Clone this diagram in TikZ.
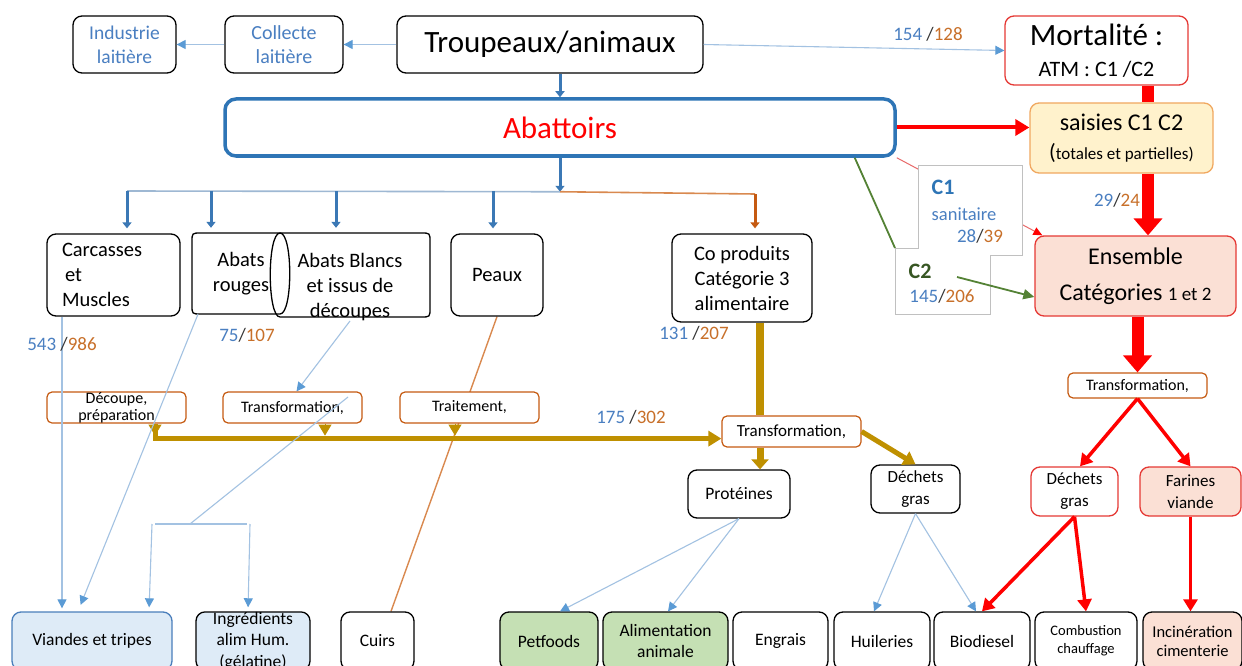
\documentclass[tikz,border=0pt]{standalone}
\usepackage{fontspec}
\setmainfont{Carlito}
\usetikzlibrary{arrows.meta,calc}
\pgfdeclarelayer{bg}
\pgfsetlayers{bg,main}
\definecolor{tblue}{HTML}{4A7FC1}
\definecolor{torange}{HTML}{C8702A}
\definecolor{lblue}{HTML}{A3C2E2}
\definecolor{tipblue}{HTML}{5B9BD5}
\definecolor{dblue}{HTML}{3B78B5}
\definecolor{aborder}{HTML}{2E75B6}
\definecolor{oborder}{HTML}{C55A11}
\definecolor{oline}{HTML}{D9894F}
\definecolor{gold}{HTML}{BF9000}
\definecolor{gfill}{HTML}{C5E0B4}
\definecolor{bfill}{HTML}{DEEBF7}
\definecolor{pfill}{HTML}{FBE0D5}
\definecolor{yfill}{HTML}{FFF2CC}
\definecolor{yborder}{HTML}{F0A860}
\definecolor{redb}{HTML}{E53935}
\definecolor{redthin}{HTML}{E86A6A}
\definecolor{dgreen}{HTML}{548235}
\definecolor{ctwo}{HTML}{375623}
\definecolor{greyb}{HTML}{C0C0C0}
\definecolor{vborder}{HTML}{4A7EBB}
\newcommand{\fsz}[2]{\fontsize{#1}{#2}\selectfont}
\newcommand{\nums}[3]{{\color{tblue}#1}#2{\color{black!80}/}{\color{torange}#3}}
\begin{document}
\begin{tikzpicture}[x=1pt,y=-1pt,
  box/.style={draw,rounded corners=9pt,line width=1.3pt,fill=white,inner sep=0pt,align=center,font=\fsz{20.5}{25}},
  pbox/.style={draw=oborder,rounded corners=5pt,line width=1.2pt,fill=white,inner sep=0pt,align=center,font=\fsz{16}{17}},
  bbox/.style={box,minimum height=58pt,font=\fsz{17.5}{21}},
  lbl/.style={inner sep=0pt,font=\fsz{19}{22}},
  lline/.style={draw=lblue,line width=1.1pt},
  lconn/.style={lline,-{Triangle[length=9pt,width=9pt,color=tipblue]}},
  tarrow/.style={draw=dblue,line width=3pt,-{Triangle[length=6pt,width=9pt]}},
  redbig/.style={draw=red,line width=12pt,-{Triangle[length=17pt,width=28pt]}},
  redmed/.style={draw=red,line width=3.5pt,-{Triangle[length=12pt,width=14pt]}}
]
\useasboundingbox (0,0) rectangle (1242,666);
\begin{pgfonlayer}{bg}
\fill[white] (0,0) rectangle (1242,666);
\end{pgfonlayer}
\clip (0,0) rectangle (1242,666);

% ---------- top row
\node[box,minimum width=103pt,minimum height=57pt,text=tblue,font=\fsz{19.5}{24}] (ind) at (124.5,44.5) {Industrie\\laitière};
\node[box,minimum width=118pt,minimum height=57pt,text=tblue,font=\fsz{20}{24}] (col) at (284,44.5) {Collecte\\laitière};
\node[box,minimum width=306pt,minimum height=57pt,font=\fsz{31}{36}] (trp) at (550,44.5) {Troupeaux/animaux};
\node[box,draw=redb,minimum width=183pt,minimum height=69pt,font=\fsz{31}{31}] (mort) at (1096.5,50.5) {Mortalité :\\\fsz{22}{31}ATM : C1 /C2};
\node[box,draw=aborder,line width=3.5pt,rounded corners=11pt,minimum width=670pt,minimum height=57pt,text=red,font=\fsz{31}{36}] (aba) at (560,127.5) {Abattoirs};
\node[box,draw=yborder,fill=yfill,minimum width=183pt,minimum height=70pt,font=\fsz{24}{29}] (sais) at (1121.5,138) {saisies C1 C2\\\fsz{17}{29}{\fsz{22}{29}(}totales et partielles)};
\node[box,draw=redb,fill=pfill,minimum width=201pt,minimum height=80pt,font=\fsz{24}{36}] (ens) at (1135.5,276) {Ensemble\\Catégories {\fsz{19}{36}1 et 2}};

% ---------- second row
\node[box,minimum width=133pt,minimum height=82pt,text width=103pt,align=left] (carc) at (113.5,275) {Carcasses\\\hspace*{3pt}et\\Muscles};
\node[inner sep=0pt,minimum width=98pt,minimum height=81pt,align=center,font=\fsz{20.5}{25}] (abr) at (241,273.5) {Abats\\rouges};
\node[inner sep=0pt,minimum width=160pt,minimum height=84pt] (abb) at (350,275) {};
\draw[line width=1.3pt] (280,233) -- (201,233) .. controls (192,233) .. (192,242) -- (192,305) .. controls (192,314) .. (201,314) -- (280,314) .. controls (293,314) and (293,233) .. cycle;
\draw[line width=1.3pt] (280,233) -- (421,233) .. controls (430,233) .. (430,242) -- (430,308) .. controls (430,317) .. (421,317) -- (280,317) .. controls (267,317) and (267,233) .. cycle;
\node[inner sep=0pt,align=center,font=\fsz{20.5}{25}] (abbt) at (350,287) {Abats Blancs\\et issus de\\découpes};
\node[box,minimum width=92pt,minimum height=82pt] (peaux) at (497,275) {Peaux};
\node[box,minimum width=140pt,minimum height=88pt] (cop) at (742,278) {Co produits\\Catégorie 3\\alimentaire};

% ---------- process boxes
\node[pbox,minimum width=139pt,minimum height=31pt] (dec) at (116.5,407.5) {Découpe,\\préparation};
\node[pbox,minimum width=139pt,minimum height=31pt] (trl) at (292.5,407.5) {Transformation,};
\node[pbox,minimum width=139pt,minimum height=31pt] (trt) at (469.5,407.5) {Traitement,};
\node[pbox,minimum width=139pt,minimum height=31pt,font=\fsz{17}{18}] (trc) at (791.5,431.5) {Transformation,};
\node[pbox,minimum width=139pt,minimum height=25pt] (trr) at (1137.5,385.5) {Transformation,};

% ---------- third row
\node[box,minimum width=102pt,minimum height=48pt,font=\fsz{17.5}{22}] (prot) at (739,494) {Protéines};
\node[box,minimum width=89pt,minimum height=48pt,font=\fsz{17}{22}] (dgj) at (915.5,489) {Déchets\\gras};
\node[box,draw=redb,minimum width=87pt,minimum height=49pt,font=\fsz{17}{22}] (dgr) at (1074.5,491.5) {Déchets\\gras};
\node[box,draw=redb,fill=pfill,minimum width=101pt,minimum height=49pt,font=\fsz{17}{22}] (far) at (1190.5,491.5) {Farines\\viande};

% ---------- bottom row
\node[bbox,draw=vborder,fill=bfill,minimum width=160pt] (vt) at (92,641) {Viandes et tripes};
\node[bbox,fill=bfill,minimum width=114pt,font=\fsz{17.5}{21.5}] (ing) at (253,641) {Ingrédients\\alim Hum.\\(gélatine)};
\node[bbox,minimum width=73pt] (cuirs) at (377.5,641) {Cuirs};
\node[bbox,fill=gfill,minimum width=98pt] (pet) at (549,641) {Petfoods};
\node[bbox,fill=gfill,minimum width=125pt] (ali) at (665.5,641) {Alimentation\\animale};
\node[bbox,minimum width=95pt] (eng) at (780.5,641) {Engrais};
\node[bbox,minimum width=96pt] (hui) at (882,641) {Huileries};
\node[bbox,minimum width=96pt] (bio) at (982,641) {Biodiesel};
\node[bbox,minimum width=102pt,font=\fsz{14.5}{18}] (comb) at (1086,641) {Combustion\\chauffage};
\node[bbox,fill=pfill,minimum width=99pt,font=\fsz{16.5}{19}] (inc) at (1192.5,641) {Incinération\\cimenterie};

% ---------- connectors behind boxes
\begin{pgfonlayer}{bg}
\draw[draw=oline,line width=1.4pt] (peaux.south) -- ([xshift=13.5pt]cuirs.north);
\draw[draw=redthin,line width=1pt,-{Triangle[length=9pt,width=8pt,color=red]}] (aba.south east) -- ([xshift=8pt]ens.north west);
\end{pgfonlayer}

% top connectors
\draw[lconn] (trp.west) -- (col.east);
\draw[lconn] (col.west) -- (ind.east);
\draw[lconn] (trp.east) -- (mort.west);
\node[lbl] (l154) at (928,34) {\nums{154}{ }{128}};
\draw[tarrow] (trp.south -| aba.north) -- (aba.north);
\draw[tarrow] (aba.south) -- ++(0,34) coordinate (br);
\coordinate (b1) at (127,191);
\coordinate (b2) at (211,191);
\coordinate (b3) at (336,191);
\coordinate (b4) at (493,191);
\coordinate (b5) at (755,194);
\draw[draw=lblue!85!gray,line width=1.6pt] (b1) -- (br);
\draw[draw=oline,line width=1.6pt] (br) -- (b5);
\draw[tarrow,shorten >=5pt] (b1) -- (b1 |- carc.north);
\draw[tarrow,shorten >=5pt] (b2) -- (b2 |- abr.north);
\draw[tarrow,shorten >=5pt] (b3) -- (b3 |- abb.north);
\draw[tarrow,shorten >=5pt] (b4) -- (b4 |- peaux.north);
\draw[tarrow,draw=oborder,shorten >=5pt] (b5) -- (b5 |- cop.north);

% red flows
\draw[draw=red,line width=12pt] ([xshift=51.5pt]mort.south) -- ([xshift=26.5pt]sais.north);
\draw[redbig] ([xshift=26.5pt]sais.south) -- ([xshift=12.5pt]ens.north);
\node[lbl] (l29) at (1117,200) {\nums{29}{}{24}};
\draw[draw=red,line width=4pt,-{Triangle[length=14pt,width=16pt]}] (aba.east) -- (aba.east -| sais.west);
\draw[redbig] (ens.south -| trr.north) -- (trr.north);
\draw[redmed] (trr.south) -- ([xshift=5.5pt]dgr.north);
\draw[redmed] (trr.south) -- (far.north);
\draw[redmed] (dgr.south) -- (bio.north);
\draw[redmed] (dgr.south) -- (comb.north);
\draw[redmed] (far.south) -- (far.south |- inc.north);

% C1 / C2 label panel
\coordinate (c2c) at (895,248);
\draw[draw=dgreen,line width=1.8pt] ([xshift=-42pt]aba.south east) -- (c2c);
\draw[draw=greyb,line width=0.9pt,fill=white] (918,165) -- (1022,165) -- (1022,255) -- (990,255) -- (990,314) -- (895,314) -- (c2c) -- (918,248) -- cycle;
\node[inner sep=0pt,font=\bfseries\fsz{22}{24},text=aborder] (c1t) at (943,187) {C1};
\node[inner sep=0pt,font=\fsz{18.5}{22},text=tblue] (sant) at (964,214) {sanitaire};
\node[lbl] (l28) at (980,236) {\nums{28}{}{39}};
\node[inner sep=0pt,font=\bfseries\fsz{22}{24},text=ctwo] (c2t) at (920,271) {C2};
\node[lbl] (l145) at (942,296) {\nums{145}{}{206}};
\coordinate (c2a) at (957,277);
\draw[draw=dgreen,line width=1.8pt,-{Triangle[length=11pt,width=10pt]}] (c2a) -- ([yshift=-21pt]ens.west);

% gold flows
\draw[draw=gold,line width=8pt] ([xshift=18pt]cop.south) -- ([xshift=18pt]cop.south |- trc.north);
\node[lbl] (l131) at (694,333) {\nums{131}{ }{207}};
\draw[draw=gold,line width=5pt,-{Triangle[length=13pt,width=15pt]}] ([xshift=38.5pt]dec.south) -- ++(0,15) coordinate (g0) -- (g0 -| trc.west);
\draw[draw=gold,line width=1pt,-{Triangle[length=11pt,width=13pt]}] ([xshift=38.5pt]dec.south) -- ++(0,12);
\draw[draw=gold,line width=1pt,-{Triangle[length=11pt,width=13pt]}] ([xshift=32.5pt]trl.south) -- ++(0,12);
\draw[draw=gold,line width=1pt,-{Triangle[length=11pt,width=13pt]}] ([xshift=-14.5pt]trt.south) -- ++(0,12);
\node[lbl] (l175) at (631,417) {\nums{175}{ }{302}};
\draw[draw=gold,line width=7pt,-{Triangle[length=10pt,width=17pt]}] ([xshift=-31.5pt]trc.south) -- ([xshift=-31.5pt]trc.south |- prot.north);
\draw[draw=gold,line width=5pt,-{Triangle[length=12pt,width=15pt]}] (trc.east) -- (dgj.north);

% light blue flows
\draw[lconn] (prot.south) -- ([xshift=11pt]pet.north);
\draw[lconn] (prot.south) -- ([xshift=2.5pt]ali.north);
\draw[lconn] (dgj.south) -- ([xshift=-8pt]hui.north);
\draw[lconn] (dgj.south) -- ([xshift=-6pt]bio.north);
\draw[lconn,shorten >=3pt] ([xshift=-51.5pt]carc.south) -- ([xshift=-51.5pt]carc.south |- vt.north);
\node[lbl] (l543) at (62,344) {\nums{543}{ }{986}};
\draw[lconn,shorten >=7pt] ([xshift=-43pt]abr.south) -- ([xshift=-14pt]vt.north);
\node[lbl] (l75) at (247,335) {\nums{75}{}{107}};
\draw[lconn] (abbt.south) -- ([xshift=4pt]trl.north);
\coordinate (brk) at (190,524);
\coordinate (bk1) at (152,524);
\coordinate (bk2) at (250,524);
\draw[lline] ([xshift=55.5pt,yshift=10.5pt]trl.center) -- (brk);
\draw[lline] ([xshift=3pt]bk1) -- ([xshift=-3pt]bk2);
\draw[lconn,shorten >=4pt] (bk1) -- ([xshift=57pt]vt.north);
\draw[lconn,shorten >=4pt] (bk2) -- ([xshift=-5pt]ing.north);
\end{tikzpicture}
\end{document}
